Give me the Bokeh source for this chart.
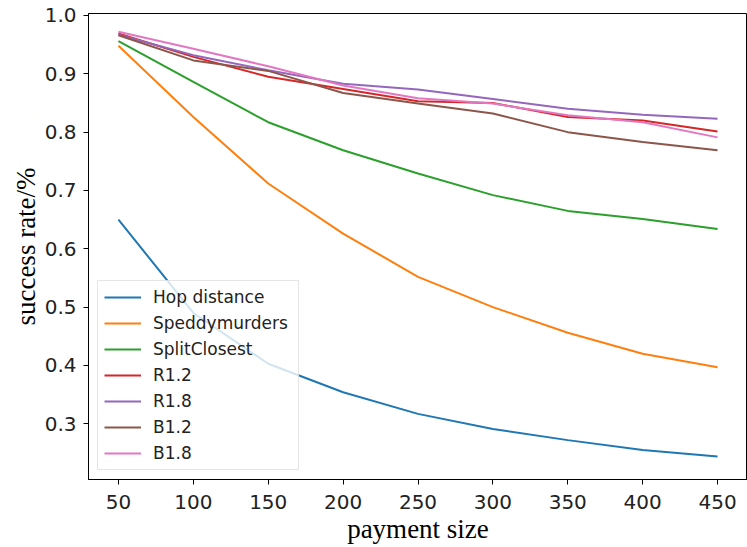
from bokeh.plotting import figure
from bokeh.models import FixedTicker, PrintfTickFormatter, Range1d, Legend
from bokeh.embed import file_html
from bokeh.resources import INLINE

# ---- data ----
payment = [50, 100, 150, 200, 250, 300, 350, 400, 450]
hop_distance = [0.650, 0.490, 0.403, 0.354, 0.317, 0.291, 0.272, 0.255, 0.244]
speddymurders = [0.948, 0.826, 0.712, 0.626, 0.552, 0.500, 0.456, 0.420, 0.397]
split_closest = [0.956, 0.886, 0.817, 0.769, 0.729, 0.692, 0.665, 0.651, 0.634]
r12 = [0.969, 0.929, 0.895, 0.874, 0.853, 0.850, 0.826, 0.820, 0.801]
r18 = [0.967, 0.932, 0.906, 0.883, 0.873, 0.857, 0.840, 0.830, 0.823]
b12 = [0.966, 0.923, 0.905, 0.867, 0.849, 0.832, 0.800, 0.783, 0.769]
b18 = [0.972, 0.943, 0.913, 0.880, 0.858, 0.849, 0.829, 0.817, 0.791]

series_names = ["Hop distance", "Speddymurders", "SplitClosest", "R1.2", "R1.8", "B1.2", "B1.8"]
series_values = [hop_distance, speddymurders, split_closest, r12, r18, b12, b18]
colors = ["#1f77b4", "#ff7f0e", "#2ca02c", "#d62728", "#9467bd", "#8c564b", "#e377c2"]

x_ticks = [50, 100, 150, 200, 250, 300, 350, 400, 450]
y_ticks = [0.3, 0.4, 0.5, 0.6, 0.7, 0.8, 0.9, 1.0]

p = figure(
    width=747, height=547,
    output_backend="svg", toolbar_location=None,
    x_range=Range1d(30, 470), y_range=Range1d(0.2045, 1.0034),
    min_border_left=88, min_border_right=0, min_border_top=13, min_border_bottom=68,
)
p.background_fill_color = "white"
p.border_fill_color = "white"
p.outline_line_color = "black"
p.outline_line_width = 1
p.xgrid.visible = False
p.ygrid.visible = False

legend_items = []
for name, vals, col in zip(series_names, series_values, colors):
    r = p.line(payment, vals, line_color=col, line_width=2)
    legend_items.append((name, [r]))

for ax in (p.xaxis[0], p.yaxis[0]):
    ax.axis_line_color = "black"
    ax.major_tick_line_color = "black"
    ax.major_tick_out = 5
    ax.major_tick_in = 0
    ax.minor_tick_line_color = None
    ax.major_label_text_font = "DejaVu Sans"
    ax.major_label_text_font_size = "20px"
    ax.major_label_text_color = "#222222"
    ax.axis_label_text_font = "Liberation Serif"
    ax.axis_label_text_font_size = "27px"
    ax.axis_label_text_font_style = "normal"
    ax.axis_label_text_color = "black"

p.xaxis.ticker = FixedTicker(ticks=x_ticks)
p.yaxis.ticker = FixedTicker(ticks=y_ticks)
p.yaxis.formatter = PrintfTickFormatter(format="%.1f")
p.xaxis.axis_label = "payment size"
p.yaxis.axis_label = "success rate/%"
p.xaxis.major_label_standoff = 10
p.yaxis.major_label_standoff = 7
p.xaxis.axis_label_standoff = 2
p.yaxis.axis_label_standoff = 1

legend = Legend(items=legend_items, location=(9, 9))
legend.margin = 0
legend.padding = 6
legend.spacing = 6
legend.label_height = 20
legend.label_width = 139
legend.glyph_height = 20
legend.glyph_width = 37
legend.label_standoff = 12
legend.label_text_font = "DejaVu Sans"
legend.label_text_font_size = "17px"
legend.label_text_color = "#222222"
legend.background_fill_color = "white"
legend.background_fill_alpha = 0.8
legend.border_line_color = "#cccccc"
legend.border_line_width = 1
p.add_layout(legend, "center")

open("out.html", "w").write(file_html(p, INLINE))
